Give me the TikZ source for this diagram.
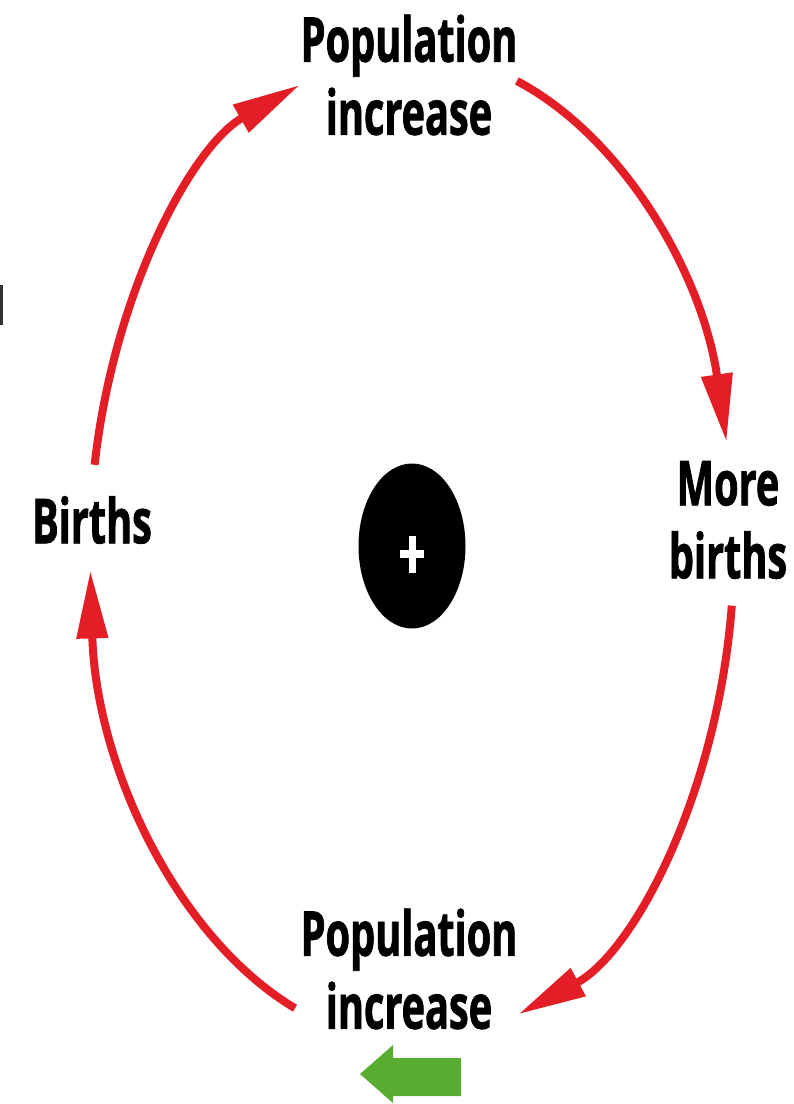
\documentclass[tikz,border=0pt]{standalone}
\usepackage{fontspec}
\newfontfamily\labfont[FakeStretch=0.64, BoldFeatures={FakeBold=1.2}]{Open Sans}
\usetikzlibrary{arrows.meta,calc,shapes.geometric}
\definecolor{loopred}{RGB}{228,30,38}
\definecolor{arrgreen}{RGB}{88,172,48}
\begin{document}
\begin{tikzpicture}[x=1pt,y=-1pt,
  lab/.style={font=\labfont\bfseries\fontsize{62}{73}\selectfont, align=center, inner sep=0pt, text=black},
  loopline/.style={draw=loopred, line width=8pt, -{Triangle[length=68pt,width=30pt]}},
]
\useasboundingbox (0,0) rectangle (794,1104);
\coordinate (c) at (412,548);
% labels
\node[lab] (top) at (409,75) {Population\\increase};
\node[lab] (right) at (728,520) {More\\births};
\node[lab] (left) at (92,520) {Births};
\node[lab] (bottom) at (409,969) {Population\\increase};
% hub
\node[ellipse, fill=black, minimum width=107pt, minimum height=165pt, inner sep=0pt] (hub) at (412,546) {};
\fill[white] ($(hub.center)+(-12,3.5)$) rectangle ($(hub.center)+(12,11.5)$);
\fill[white] ($(hub.center)+(-3.5,-10)$) rectangle ($(hub.center)+(3.5,27)$);
% loop arcs
\coordinate (a1) at ($(c)+(189.7:322 and 494)$);
\coordinate (a2) at ($(c)+(289:322 and 494)$);
\coordinate (a3) at ($(c)+(6.7:322 and 494)$);
\coordinate (a4) at ($(c)+(111.3:322 and 494)$);
\draw[loopline] (a1) arc[start angle=189.7, end angle=249.6, x radius=322, y radius=494];
\draw[loopline] (a2) arc[start angle=289, end angle=347.6, x radius=322, y radius=494];
\draw[loopline] (a3) arc[start angle=6.7, end angle=70.7, x radius=322, y radius=494];
\draw[loopline] (a4) arc[start angle=111.3, end angle=177.4, x radius=322, y radius=494];
% green arrow
\fill[arrgreen] (461,1058) -- (393,1058) -- (393,1045) -- (360,1074) -- (393,1103) -- (393,1096) -- (461,1096) -- cycle;
% clipped mark at left edge
\fill[black!80] (0,285) rectangle (2.5,325);
\end{tikzpicture}
\end{document}
